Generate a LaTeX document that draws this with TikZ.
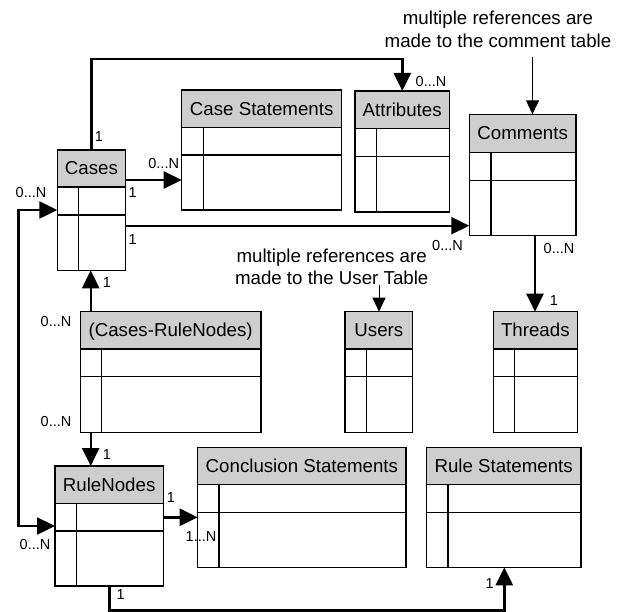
\documentclass[tikz,border=0pt]{standalone}
\usepackage{fontspec}
\setmainfont{Liberation Sans}
\usetikzlibrary{arrows.meta,fit}

\definecolor{hdrgray}{RGB}{206,206,206}
\newcommand\hdrfont{\fontsize{18.7bp}{22.5bp}\selectfont}
\newcommand\lblfont{\fontsize{14.5bp}{17bp}\selectfont}

% A database table: name, left, top, right, bottom, header bottom, row line, key column, title
\newcommand\dbtable[9]{%
  \node[tblframe, fit={(#2,#3) (#4,#5)}] (#1) {};
  \draw[tblline, fill=hdrgray] (#2,#3) rectangle (#4,#6);
  \draw[tblline] (#2,#7) -- (#4,#7) (#8,#6) -- (#8,#5);
  \node[hdrtext] (#1-title) at ({(#2+#4)/2},{(#3+#6)/2+6.5}) {#9};
}
% A multiplicity label, placed by the centre of its digits
\newcommand\mult[3]{\node[lbl] (#1) at (#2) {#3};}

\tikzset{
  tblframe/.style={draw, line width=1.3bp, inner sep=0pt, outer sep=0pt},
  tblline/.style={line width=1.3bp},
  hdrtext/.style={anchor=base, inner sep=0pt, font=\hdrfont},
  lbl/.style={anchor=base, inner sep=0pt, font=\lblfont, yshift=-5bp},
  ann/.style={inner sep=0pt, font=\hdrfont, align=center},
  conn/.style={line width=2.4bp, line join=miter, -{Triangle[length=18bp,width=17bp]}},
  both/.style={line width=2.4bp, line join=miter, {Triangle[length=18bp,width=17bp]}-{Triangle[length=18bp,width=17bp]}},
  thinarrow/.style={line width=1bp, -{Triangle[length=14bp,width=13bp]}},
}

\begin{document}
\begin{tikzpicture}[x=1bp, y=-1bp]
\useasboundingbox (0,0) rectangle (627,612);

% tables
\dbtable{cases}{57.3}{150}{125.7}{270.3}{187}{215}{78.7}{Cases}
\dbtable{casestmt}{181.7}{90}{341.7}{210}{127.3}{155}{203.3}{Case Statements}
\dbtable{attributes}{355}{91}{449.3}{212}{128.7}{156.7}{376.7}{Attributes}
\dbtable{comments}{469.3}{114.3}{576}{235.3}{152.7}{180.3}{491}{Comments}
\dbtable{users}{345}{311.7}{412.7}{432.3}{349}{376.7}{366.3}{Users}
\dbtable{threads}{493.3}{311.7}{577.3}{432.3}{349}{376.7}{514.3}{Threads}
\dbtable{crn}{80.3}{311.7}{261}{432.3}{349}{376.7}{101.3}{(Cases-RuleNodes)}
\dbtable{rulenodes}{55}{466}{163.3}{586}{503.3}{531}{76.7}{RuleNodes}
\dbtable{conclusion}{197.7}{447.3}{406}{567.3}{484.3}{512.3}{219}{Conclusion Statements}
\dbtable{rulestmt}{426.3}{447.3}{581}{567.3}{484.3}{512.3}{448}{Rule Statements}

% notes
\node[ann, anchor=north] (noteC) at (498,11) {multiple references are\\made to the comment table};
\coordinate (noteCend) at (532.5,57);
\node[ann, anchor=south] (noteU) at (331.7,285) {multiple references are\\made to the User Table};

% relations
\draw[conn] (cases.north -| 91.3,0) -- (91.3,59) -- (402.3,59) -- (attributes.north -| 402.3,0);
\draw[conn] (cases.east |- 0,180) -- (casestmt.west |- 0,180);
\draw[conn] (cases.east |- 0,225.7) -- (comments.west |- 0,225.7);
\draw[conn] (comments.south -| 535,0) -- (threads.north -| 535,0);
\draw[conn] (crn.north -| 90.7,0) -- (cases.south -| 90.7,0);
\draw[conn] (crn.south -| 90.7,0) -- (rulenodes.north -| 90.7,0);
\draw[both] (rulenodes.west |- 0,526) -- (18.3,526) -- (18.3,210) -- (cases.west |- 0,210);
\draw[conn] (rulenodes.east |- 0,517.3) -- (conclusion.west |- 0,517.3);
\draw[conn] (rulenodes.south -| 109.3,0) -- (109.3,610.5) -- (504.3,610.5) -- (rulestmt.south -| 504.3,0);

\draw[thinarrow] (noteCend) -- (comments.north -| noteCend);
\draw[thinarrow] (noteU.south -| 379,0) -- (users.north -| 379,0);

% multiplicities
\mult{m1}{99,136.7}{1}
\mult{m2}{431,81.7}{0...N}
\mult{m3}{163.7,164}{0...N}
\mult{m4}{132.7,192}{1}
\mult{m5}{132.7,239.3}{1}
\mult{m6}{447.5,245}{0...N}
\mult{m7}{559,248.3}{0...N}
\mult{m8}{554,300}{1}
\mult{m9}{107,282.3}{1}
\mult{m10}{56,321}{0...N}
\mult{m11}{56,421.7}{0...N}
\mult{m12}{107,454}{1}
\mult{m13}{31,192.7}{0...N}
\mult{m14}{35,544.3}{0...N}
\mult{m15}{171,497.7}{1}
\mult{m16}{201,536.7}{1...N}
\mult{m17}{120.7,594}{1}
\mult{m18}{489.7,583.3}{1}
\end{tikzpicture}
\end{document}
